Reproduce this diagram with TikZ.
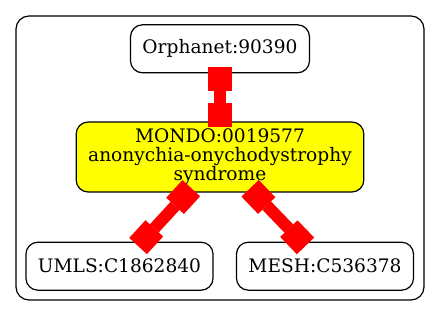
\documentclass[tikz,border=0pt]{standalone}
\usepackage{fontspec}
\setmainfont{DejaVu Serif}
\usetikzlibrary{arrows.meta, positioning}
\definecolor{termyellow}{RGB}{255,255,0}
\definecolor{linkred}{RGB}{255,0,0}
\tikzstyle{term} = [rectangle, rounded corners=6pt,
minimum height=24pt,
inner xsep=6pt,
text centered,
line width=0.6pt,
draw=black]
\tikzstyle{link} = [line width=6pt, draw=linkred,
{Square[length=12pt,width=12pt,line width=0pt]}-{Square[length=12pt,width=12pt,line width=0pt]},
shorten <=-3pt, shorten >=-3pt]

\begin{document}
\begin{tikzpicture}[every node/.style={font=\fontsize{9.3}{9.5}\selectfont}, align=center]
        \useasboundingbox (0,0) rectangle (220pt,158pt);

        % Cluster
        \draw [line width=0.6pt, rounded corners=6.5pt] (8pt,8pt) rectangle (212pt,150pt);

        % Nodes
        \node (mondo) [term, fill=termyellow, minimum width=142.5pt, minimum height=35pt] at (110pt,79.5pt) {MONDO:0019577\\anonychia-onychodystrophy\\syndrome};
        \node (orphanet) [term, above=24pt of mondo] {Orphanet:90390};
        \node (umls) [term, below=24.5pt of mondo, xshift=-50.25pt] {UMLS:C1862840};
        \node (mesh) [term, below=24.5pt of mondo, xshift=52.5pt] {MESH:C536378};

        % Connections
        \draw [link] (orphanet) -- (mondo);
        \draw [link] (mondo) -- (umls);
        \draw [link] (mondo) -- (mesh);

    \end{tikzpicture}
\end{document}
